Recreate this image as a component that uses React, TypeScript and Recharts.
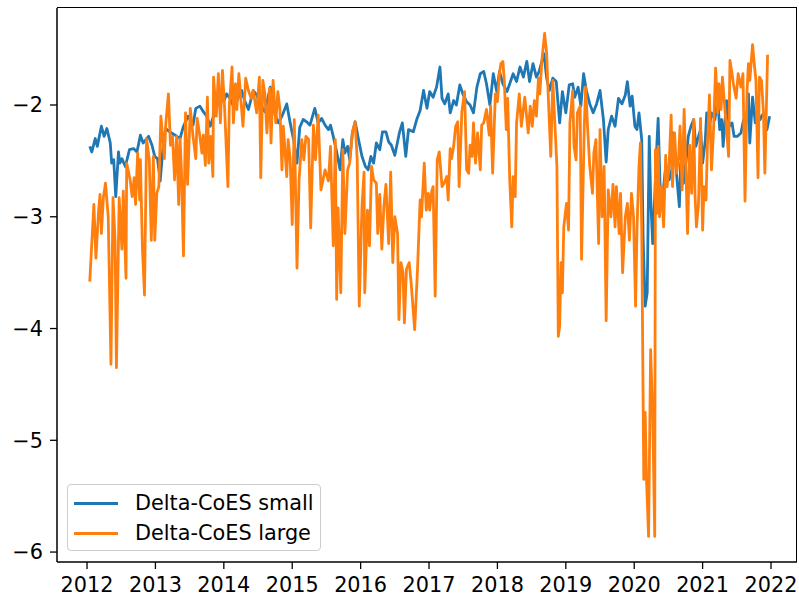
import { LineChart, Line, XAxis, YAxis } from 'recharts';

// Delta-CoES small (blue) — year / value pairs
const smallYears = [
  2012.04, 2012.07, 2012.12, 2012.15, 2012.21, 2012.25, 2012.29, 2012.34, 2012.36, 2012.39,
  2012.42, 2012.46, 2012.48, 2012.51, 2012.56, 2012.62, 2012.68, 2012.73, 2012.78, 2012.82,
  2012.9, 2012.95, 2012.99, 2013.03, 2013.07, 2013.12, 2013.15, 2013.21, 2013.29, 2013.36,
  2013.41, 2013.48, 2013.51, 2013.55, 2013.59, 2013.65, 2013.7, 2013.75, 2013.8, 2013.85,
  2013.9, 2013.95, 2014.0, 2014.04, 2014.09, 2014.14, 2014.19, 2014.26, 2014.31, 2014.36,
  2014.43, 2014.48, 2014.53, 2014.6, 2014.68, 2014.75, 2014.8, 2014.85, 2014.92, 2014.97,
  2015.02, 2015.07, 2015.11, 2015.16, 2015.21, 2015.26, 2015.33, 2015.38, 2015.43, 2015.48,
  2015.53, 2015.56, 2015.6, 2015.65, 2015.7, 2015.74, 2015.77, 2015.81, 2015.84, 2015.88,
  2015.92, 2015.97, 2016.02, 2016.07, 2016.11, 2016.15, 2016.19, 2016.23, 2016.28, 2016.32,
  2016.37, 2016.41, 2016.45, 2016.5, 2016.57, 2016.61, 2016.66, 2016.7, 2016.77, 2016.82,
  2016.87, 2016.92, 2016.97, 2017.01, 2017.06, 2017.11, 2017.16, 2017.19, 2017.23, 2017.28,
  2017.31, 2017.36, 2017.4, 2017.45, 2017.5, 2017.55, 2017.6, 2017.65, 2017.7, 2017.75,
  2017.8, 2017.84, 2017.89, 2017.94, 2017.99, 2018.03, 2018.08, 2018.14, 2018.18, 2018.23,
  2018.28, 2018.33, 2018.38, 2018.43, 2018.47, 2018.52, 2018.57, 2018.61, 2018.65, 2018.68,
  2018.72, 2018.76, 2018.81, 2018.86, 2018.91, 2018.95, 2019.0, 2019.05, 2019.1, 2019.13,
  2019.18, 2019.22, 2019.26, 2019.3, 2019.35, 2019.4, 2019.45, 2019.5, 2019.55, 2019.59,
  2019.62, 2019.67, 2019.72, 2019.77, 2019.82, 2019.87, 2019.9, 2019.94, 2019.97, 2020.01,
  2020.04, 2020.07, 2020.11, 2020.13, 2020.16, 2020.19, 2020.22, 2020.24, 2020.27, 2020.3,
  2020.33, 2020.35, 2020.38, 2020.4, 2020.43, 2020.45, 2020.47, 2020.51, 2020.55, 2020.57,
  2020.6, 2020.63, 2020.66, 2020.68, 2020.72, 2020.76, 2020.79, 2020.83, 2020.87, 2020.9,
  2020.94, 2020.97, 2021.0, 2021.04, 2021.06, 2021.1, 2021.13, 2021.18, 2021.22, 2021.25,
  2021.28, 2021.3, 2021.35, 2021.39, 2021.43, 2021.46, 2021.51, 2021.56, 2021.6, 2021.64,
  2021.67, 2021.69, 2021.73, 2021.77, 2021.8, 2021.84, 2021.89, 2021.94, 2021.98,
];
const smallValues = [
  -2.37, -2.42, -2.3, -2.37, -2.19, -2.28, -2.21, -2.34, -2.52, -2.49,
  -2.82, -2.42, -2.52, -2.48, -2.55, -2.4, -2.39, -2.42, -2.27, -2.34,
  -2.28, -2.36, -2.46, -2.48, -2.68, -2.31, -2.21, -2.24, -2.27, -2.3,
  -2.19, -2.1, -2.13, -2.18, -2.03, -2.01, -2.06, -2.1, -2.19, -2.1,
  -2.01, -1.93, -1.97, -1.9, -1.94, -2.01, -1.96, -1.87, -1.97, -2.04,
  -1.87, -1.91, -1.99, -2.06, -1.84, -2.09, -2.16, -2.1, -1.99, -2.16,
  -2.31, -2.52, -2.2, -2.13, -2.15, -2.18, -2.03, -2.16, -2.12, -2.18,
  -2.22, -2.18, -2.28, -2.42, -2.58, -2.31, -2.43, -2.37, -2.49, -2.25,
  -2.15, -2.31, -2.46, -2.55, -2.58, -2.46, -2.52, -2.34, -2.4, -2.24,
  -2.24, -2.33, -2.36, -2.45, -2.24, -2.16, -2.46, -2.22, -2.24, -2.13,
  -2.05, -1.87, -2.03, -1.88, -1.93, -1.84, -1.66, -1.94, -1.99, -1.9,
  -2.07, -1.96, -2.0, -1.82, -1.91, -1.97, -2.0, -2.07, -1.84, -1.72,
  -1.7, -1.81, -2.0, -1.72, -1.88, -1.7, -1.81, -1.88, -1.81, -1.72,
  -1.79, -1.66, -1.75, -1.61, -1.79, -1.63, -1.75, -1.7, -1.61, -1.54,
  -1.76, -1.87, -1.76, -1.79, -2.16, -1.88, -2.07, -1.82, -1.81, -1.93,
  -1.84, -2.01, -1.72, -1.87, -1.99, -2.07, -1.99, -1.87, -2.13, -2.51,
  -2.22, -2.1, -2.19, -1.94, -1.99, -1.91, -1.79, -2.01, -1.92, -2.19,
  -2.22, -2.07, -2.31, -3.18, -3.8, -3.68, -2.28, -2.82, -3.24, -2.82,
  -2.37, -2.12, -2.76, -2.82, -2.73, -2.61, -2.55, -2.67, -2.58, -2.25,
  -2.46, -2.7, -2.91, -2.52, -2.7, -2.49, -2.28, -2.19, -2.13, -2.37,
  -2.28, -2.22, -2.52, -2.31, -2.07, -2.19, -2.07, -2.13, -1.93, -2.22,
  -2.13, -2.37, -1.96, -2.19, -2.16, -2.28, -2.28, -2.25, -2.13, -2.16,
  -1.9, -2.34, -1.93, -2.16, -2.04, -2.13, -2.07, -2.22, -2.1,
];

// Delta-CoES large (orange)
const largeYears = [
  2012.04, 2012.1, 2012.13, 2012.17, 2012.19, 2012.21, 2012.24, 2012.27, 2012.31, 2012.35,
  2012.38, 2012.41, 2012.43, 2012.47, 2012.51, 2012.53, 2012.57, 2012.58, 2012.63, 2012.66,
  2012.69, 2012.71, 2012.74, 2012.77, 2012.78, 2012.81, 2012.84, 2012.87, 2012.91, 2012.94,
  2012.97, 2012.99, 2013.02, 2013.05, 2013.08, 2013.13, 2013.15, 2013.19, 2013.22, 2013.25,
  2013.28, 2013.31, 2013.34, 2013.36, 2013.38, 2013.41, 2013.44, 2013.47, 2013.51, 2013.55,
  2013.59, 2013.61, 2013.65, 2013.68, 2013.7, 2013.73, 2013.76, 2013.78, 2013.81, 2013.84,
  2013.85, 2013.89, 2013.92, 2013.95, 2013.98, 2014.01, 2014.06, 2014.08, 2014.12, 2014.14,
  2014.17, 2014.19, 2014.22, 2014.25, 2014.28, 2014.32, 2014.36, 2014.4, 2014.43, 2014.48,
  2014.52, 2014.54, 2014.57, 2014.6, 2014.63, 2014.67, 2014.69, 2014.72, 2014.76, 2014.79,
  2014.82, 2014.85, 2014.87, 2014.92, 2014.94, 2014.97, 2015.0, 2015.03, 2015.07, 2015.1,
  2015.14, 2015.17, 2015.2, 2015.24, 2015.27, 2015.31, 2015.34, 2015.38, 2015.42, 2015.45,
  2015.48, 2015.53, 2015.56, 2015.6, 2015.63, 2015.65, 2015.67, 2015.71, 2015.74, 2015.77,
  2015.81, 2015.84, 2015.88, 2015.92, 2015.95, 2015.98, 2016.02, 2016.05, 2016.06, 2016.1,
  2016.13, 2016.16, 2016.19, 2016.23, 2016.25, 2016.28, 2016.31, 2016.34, 2016.37, 2016.41,
  2016.44, 2016.47, 2016.5, 2016.54, 2016.56, 2016.59, 2016.62, 2016.64, 2016.67, 2016.71,
  2016.74, 2016.79, 2016.83, 2016.87, 2016.89, 2016.93, 2016.96, 2016.99, 2017.01, 2017.04,
  2017.06, 2017.09, 2017.12, 2017.15, 2017.19, 2017.22, 2017.26, 2017.28, 2017.31, 2017.33,
  2017.36, 2017.39, 2017.42, 2017.44, 2017.48, 2017.52, 2017.55, 2017.58, 2017.6, 2017.63,
  2017.65, 2017.68, 2017.71, 2017.75, 2017.77, 2017.8, 2017.84, 2017.88, 2017.9, 2017.93,
  2017.97, 2018.0, 2018.03, 2018.05, 2018.08, 2018.1, 2018.13, 2018.15, 2018.18, 2018.21,
  2018.23, 2018.26, 2018.28, 2018.32, 2018.35, 2018.4, 2018.45, 2018.48, 2018.51, 2018.54,
  2018.57, 2018.6, 2018.62, 2018.65, 2018.69, 2018.72, 2018.74, 2018.78, 2018.81, 2018.83,
  2018.87, 2018.89, 2018.91, 2018.93, 2018.95, 2018.97, 2019.01, 2019.04, 2019.06, 2019.1,
  2019.12, 2019.15, 2019.17, 2019.21, 2019.23, 2019.27, 2019.29, 2019.32, 2019.35, 2019.39,
  2019.41, 2019.44, 2019.48, 2019.5, 2019.53, 2019.56, 2019.59, 2019.62, 2019.66, 2019.69,
  2019.72, 2019.74, 2019.78, 2019.8, 2019.83, 2019.87, 2019.9, 2019.93, 2019.96, 2019.99,
  2020.02, 2020.04, 2020.07, 2020.09, 2020.11, 2020.14, 2020.16, 2020.18, 2020.21, 2020.24,
  2020.27, 2020.3, 2020.31, 2020.33, 2020.35, 2020.37, 2020.4, 2020.43, 2020.46, 2020.48,
  2020.51, 2020.54, 2020.56, 2020.59, 2020.62, 2020.65, 2020.67, 2020.7, 2020.73, 2020.76,
  2020.78, 2020.81, 2020.84, 2020.87, 2020.89, 2020.91, 2020.94, 2020.97, 2021.0, 2021.02,
  2021.05, 2021.07, 2021.1, 2021.13, 2021.16, 2021.19, 2021.22, 2021.24, 2021.27, 2021.29,
  2021.33, 2021.35, 2021.38, 2021.4, 2021.43, 2021.45, 2021.49, 2021.52, 2021.56, 2021.59,
  2021.62, 2021.65, 2021.67, 2021.69, 2021.73, 2021.76, 2021.78, 2021.81, 2021.83, 2021.86,
  2021.89, 2021.91, 2021.95,
];
const largeValues = [
  -3.58, -2.89, -3.37, -2.94, -2.8, -3.15, -2.82, -2.7, -3.0, -4.32,
  -2.83, -3.21, -4.35, -2.83, -3.29, -2.77, -3.55, -2.52, -2.67, -2.82,
  -2.65, -2.89, -2.43, -2.85, -2.49, -3.28, -3.7, -2.3, -2.49, -3.21,
  -2.46, -3.21, -2.79, -2.73, -2.1, -2.48, -2.18, -1.9, -2.36, -2.28,
  -2.67, -2.28, -2.89, -2.3, -2.58, -3.35, -2.07, -2.71, -2.03, -2.28,
  -2.48, -2.12, -2.28, -2.43, -2.27, -2.54, -1.93, -2.52, -2.28, -2.64,
  -1.75, -2.1, -1.72, -2.16, -1.69, -2.01, -2.73, -2.01, -1.66, -2.16,
  -1.81, -2.04, -1.72, -1.96, -2.19, -1.76, -1.87, -1.94, -1.87, -2.07,
  -1.75, -2.65, -1.78, -1.9, -2.25, -1.85, -2.34, -1.78, -2.16, -1.88,
  -2.04, -2.58, -2.19, -2.64, -2.31, -2.48, -3.07, -2.13, -3.46, -2.67,
  -2.31, -2.49, -2.28, -2.31, -3.1, -2.18, -2.49, -2.09, -2.76, -2.67,
  -2.58, -2.68, -2.37, -3.26, -2.31, -3.74, -2.92, -3.68, -2.4, -3.15,
  -2.58, -2.52, -2.24, -2.15, -2.49, -3.8, -2.91, -2.6, -3.68, -2.94,
  -3.26, -2.55, -2.67, -2.7, -3.15, -2.8, -3.29, -2.91, -2.71, -3.24,
  -2.6, -3.41, -3.0, -3.15, -3.92, -3.41, -3.5, -3.95, -3.47, -3.41,
  -3.6, -4.01, -3.5, -2.85, -3.0, -2.52, -2.94, -2.79, -2.94, -2.77,
  -2.73, -3.71, -2.49, -2.42, -2.73, -2.7, -2.64, -2.85, -2.39, -2.48,
  -2.37, -2.19, -2.15, -2.73, -2.06, -1.88, -2.58, -2.61, -2.36, -2.46,
  -2.16, -2.52, -2.25, -2.58, -2.18, -2.16, -2.04, -2.27, -2.01, -2.61,
  -1.9, -1.97, -1.72, -1.63, -1.61, -1.78, -2.22, -1.94, -2.67, -3.09,
  -2.64, -2.82, -2.16, -1.9, -2.19, -1.93, -2.25, -2.01, -2.19, -1.96,
  -2.1, -1.76, -1.9, -1.6, -1.36, -1.54, -1.87, -2.46, -1.78, -2.04,
  -2.55, -4.07, -3.98, -3.41, -3.68, -3.09, -2.88, -3.12, -2.16, -1.87,
  -2.37, -2.49, -2.07, -2.01, -3.38, -2.19, -1.84, -2.22, -2.55, -2.79,
  -2.43, -2.31, -3.24, -2.22, -3.0, -2.55, -3.93, -2.76, -3.0, -2.71,
  -3.09, -2.73, -3.15, -2.79, -3.5, -3.0, -2.88, -3.21, -2.79, -3.0,
  -3.8, -3.12, -2.55, -2.34, -3.12, -5.35, -4.75, -5.35, -5.86, -4.19,
  -4.75, -5.86, -2.4, -2.97, -2.37, -3.0, -2.73, -3.09, -2.45, -2.73,
  -2.55, -2.09, -2.73, -2.25, -2.61, -2.46, -2.19, -2.76, -2.04, -2.67,
  -3.15, -2.36, -2.79, -2.13, -2.82, -3.09, -2.88, -2.12, -3.12, -2.73,
  -2.85, -2.37, -1.91, -2.58, -2.22, -1.67, -2.07, -1.81, -2.04, -1.75,
  -2.07, -2.22, -2.46, -1.6, -1.72, -1.81, -1.94, -1.72, -1.84, -1.72,
  -2.86, -1.87, -1.63, -1.78, -1.46, -1.66, -1.78, -2.65, -1.75, -1.78,
  -2.07, -2.61, -1.55,
];

const yearTicks = [2012, 2013, 2014, 2015, 2016, 2017, 2018, 2019, 2020, 2021, 2022];
const valueTicks = [-6, -5, -4, -3, -2];

const smallData = smallYears.map((year, i) => ({ year, v: smallValues[i] }));
const largeData = largeYears.map((year, i) => ({ year, v: largeValues[i] }));

const FONT = '"DejaVu Sans", sans-serif';
const xDomain = [2011.561, 2022.38];
const yDomain = [-6.089, -1.132];

function Legend2() {
  const rows = [
    { label: 'Delta-CoES small', color: '#1f77b4', top: 18 },
    { label: 'Delta-CoES large', color: '#ff7f0e', top: 48 },
  ];
  return (
    <div
      style={{
        position: 'absolute',
        left: 67,
        top: 484,
        width: 254,
        height: 67,
        boxSizing: 'border-box',
        border: '1.5px solid #cccccc',
        borderRadius: 4,
        background: 'rgba(255,255,255,0.8)',
        fontFamily: FONT,
        fontSize: 20.8,
        color: '#000',
      }}
    >
      {rows.map((r) => (
        <div key={r.label}>
          <div
            style={{
              position: 'absolute',
              left: 6,
              top: r.top - 1.5,
              width: 44,
              height: 3,
              background: r.color,
            }}
          />
          <div
            style={{
              position: 'absolute',
              left: 67,
              top: r.top - 13,
              lineHeight: '26px',
              whiteSpace: 'nowrap',
            }}
          >
            {r.label}
          </div>
        </div>
      ))}
    </div>
  );
}

export default function App() {
  const tickStyle = { fontSize: 20.8, fill: '#000', fontFamily: FONT };
  return (
    <div style={{ position: 'absolute', left: 0, top: 0, width: 799, height: 603, background: '#fff' }}>
      <LineChart width={799} height={603} margin={{ top: 8, right: 2, bottom: 0, left: 0 }}>
        <XAxis
          type="number"
          dataKey="year"
          domain={xDomain}
          ticks={yearTicks}
          allowDataOverflow
          height={41}
          tickSize={7}
          tickMargin={8}
          tick={tickStyle}
          stroke="#000"
          axisLine={{ stroke: '#000', strokeWidth: 1.5 }}
          tickLine={{ stroke: '#000', strokeWidth: 1.3 }}
        />
        <YAxis
          type="number"
          domain={yDomain}
          ticks={valueTicks}
          allowDataOverflow
          width={57}
          tickSize={7}
          tickMargin={7}
          tick={tickStyle}
          tickFormatter={(v: number) => (v < 0 ? '\u2212' + Math.abs(v) : String(v))}
          axisLine={{ stroke: '#000', strokeWidth: 1.5 }}
          tickLine={{ stroke: '#000', strokeWidth: 1.3 }}
        />
        <Line
          data={smallData}
          dataKey="v"
          type="linear"
          stroke="#1f77b4"
          strokeWidth={2.8}
          strokeLinejoin="round"
          dot={false}
          activeDot={false}
          isAnimationActive={false}
        />
        <Line
          data={largeData}
          dataKey="v"
          type="linear"
          stroke="#ff7f0e"
          strokeWidth={2.8}
          strokeLinejoin="round"
          dot={false}
          activeDot={false}
          isAnimationActive={false}
        />
      </LineChart>
      {/* top and right spines of the axes box */}
      <div
        style={{
          position: 'absolute',
          left: 57,
          top: 7.25,
          width: 739.25,
          height: 554,
          borderTop: '1.5px solid #000',
          borderRight: '1.5px solid #000',
          pointerEvents: 'none',
        }}
      />
      <Legend2 />
    </div>
  );
}
